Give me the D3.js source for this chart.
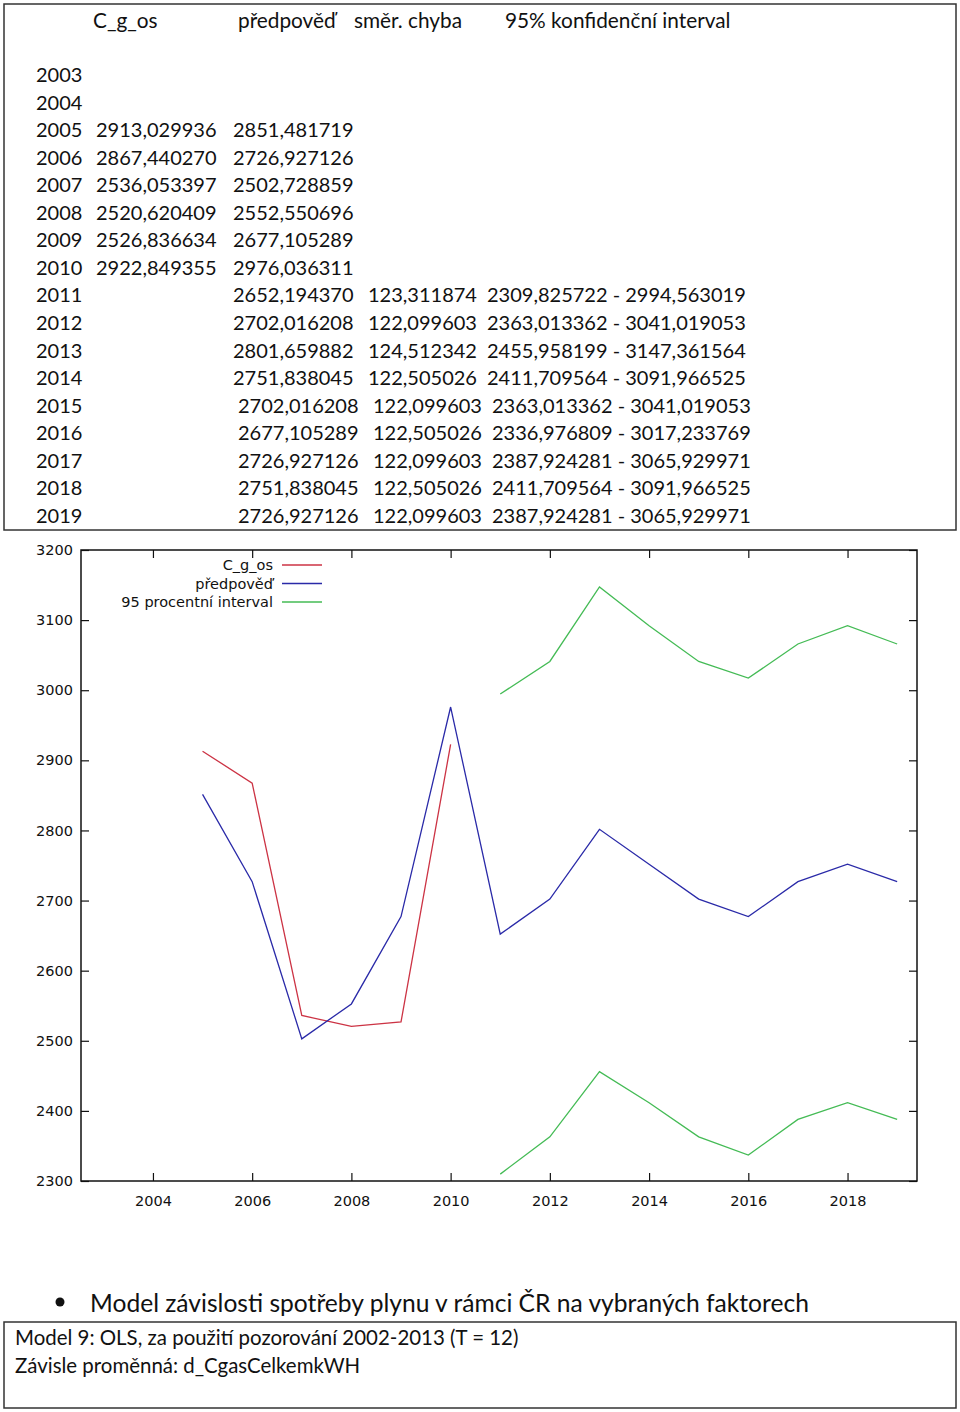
<!DOCTYPE html>
<html>
<head>
<meta charset="utf-8">
<script src="https://cdn.jsdelivr.net/npm/d3@7"></script>
<style>
  body { margin: 0; background: #fff; }
  .tbl { font-family: Lato, "Open Sans", sans-serif; font-size: 20px; fill: #111; }
  .gp { font-family: "DejaVu Sans", sans-serif; font-size: 14.5px; fill: #111; }
</style>
</head>
<body>
<div id="page"></div>
<script>
// table / chart data
let years = [2003, 2004, 2005, 2006, 2007, 2008, 2009, 2010, 2011, 2012, 2013, 2014, 2015, 2016, 2017, 2018, 2019];
let actual = [null, null, 2913.029936, 2867.44027, 2536.053397, 2520.620409, 2526.836634, 2922.849355,
  null, null, null, null, null, null, null, null, null];
let forecast = [null, null, 2851.481719, 2726.927126, 2502.728859, 2552.550696, 2677.105289, 2976.036311,
  2652.19437, 2702.016208, 2801.659882, 2751.838045, 2702.016208, 2677.105289, 2726.927126, 2751.838045, 2726.927126];
let stdErr = [null, null, null, null, null, null, null, null,
  123.311874, 122.099603, 124.512342, 122.505026, 122.099603, 122.505026, 122.099603, 122.505026, 122.099603];
let ciLow = [null, null, null, null, null, null, null, null,
  2309.825722, 2363.013362, 2455.958199, 2411.709564, 2363.013362, 2336.976809, 2387.924281, 2411.709564, 2387.924281];
let ciHigh = [null, null, null, null, null, null, null, null,
  2994.563019, 3041.019053, 3147.361564, 3091.966525, 3041.019053, 3017.233769, 3065.929971, 3091.966525, 3065.929971];

let headers = ["C_g_os", "předpověď", "směr. chyba", "95% konfidenční interval"];
let legendLabels = ["C_g_os", "předpověď", "95 procentní interval"];
let yTicks = [2300, 2400, 2500, 2600, 2700, 2800, 2900, 3000, 3100, 3200];
let xTicks = [2004, 2006, 2008, 2010, 2012, 2014, 2016, 2018];
let bulletText = "Model závislosti spotřeby plynu v rámci ČR na vybraných faktorech";
let modelLines = ["Model 9: OLS, za použití pozorování 2002-2013 (T = 12)", "Závisle proměnná: d_CgasCelkemkWH"];

let colors = { actual: "#cc3344", forecast: "#2a2aa8", ci: "#44bb55" };

let W = 960, H = 1412;
let svg = d3.select("#page").append("svg").attr("width", W).attr("height", H);

// ---------- table box ----------
svg.append("rect")
  .attr("x", 4).attr("y", 4).attr("width", 952).attr("height", 526)
  .attr("fill", "none").attr("stroke", "#333").attr("stroke-width", 1.5);

let headX = [93, 238, 354, 505];
svg.selectAll(".head")
  .data(headers)
  .enter()
  .append("text")
  .attr("class", "tbl head")
  .attr("x", (d, i) => headX[i])
  .attr("y", 21)
  .attr("dy", "0.35em")
  .style("font-size", "20.8px")
  .text((d) => d);

let fmt = (v) => v.toFixed(6).replace(".", ",");
let rowY = (i) => 75 + i * 27.56;

let rows = svg.selectAll(".row")
  .data(years)
  .enter()
  .append("g")
  .attr("class", "row")
  .attr("transform", (d, i) => "translate(0," + rowY(i) + ")");

rows.append("text").attr("class", "tbl").attr("x", 36).attr("dy", "0.35em").text((d) => d);
rows.append("text").attr("class", "tbl").attr("x", 96).attr("dy", "0.35em")
  .text((d, i) => (actual[i] == null ? "" : fmt(actual[i])));
rows.append("text").attr("class", "tbl").attr("x", (d) => (d >= 2015 ? 238 : 233)).attr("dy", "0.35em")
  .text((d, i) => (forecast[i] == null ? "" : fmt(forecast[i])));
rows.append("text").attr("class", "tbl").attr("x", (d) => (d >= 2015 ? 373 : 368)).attr("dy", "0.35em")
  .text((d, i) => (stdErr[i] == null ? "" : fmt(stdErr[i])));
rows.append("text").attr("class", "tbl").attr("x", (d) => (d >= 2015 ? 492 : 487)).attr("dy", "0.35em")
  .text((d, i) => (ciLow[i] == null ? "" : fmt(ciLow[i]) + " - " + fmt(ciHigh[i])));

// ---------- chart ----------
let plotL = 81, plotR = 917, plotT = 550, plotB = 1181;

let xScale = d3.scaleLinear().domain([2002.55, 2019.4]).range([plotL, plotR]);
let yScale = d3.scaleLinear().domain([2300, 3200]).range([plotB, plotT]);

let yAxis = d3.axisLeft(yScale).tickValues(yTicks).tickFormat(d3.format("d"))
  .tickSizeInner(-8).tickSizeOuter(0).tickPadding(8);
let xAxis = d3.axisBottom(xScale).tickValues(xTicks).tickFormat(d3.format("d"))
  .tickSizeInner(-8).tickSizeOuter(0).tickPadding(15);

let gy = svg.append("g").attr("transform", "translate(" + plotL + ",0)").call(yAxis);
let gx = svg.append("g").attr("transform", "translate(0," + plotB + ")").call(xAxis);
// mirrored ticks
svg.append("g").attr("transform", "translate(" + plotR + ",0)")
  .call(d3.axisRight(yScale).tickValues(yTicks).tickSizeInner(-8).tickSizeOuter(0).tickFormat(""));
svg.append("g").attr("transform", "translate(0," + plotT + ")")
  .call(d3.axisTop(xScale).tickValues(xTicks).tickSizeInner(-8).tickSizeOuter(0).tickFormat(""));

svg.selectAll(".domain").remove();
svg.selectAll(".tick line").attr("stroke", "#111").attr("stroke-width", 1.2);
[gx, gy].forEach((g) => {
  g.attr("font-family", null).attr("font-size", null);
  g.selectAll("text").attr("class", "gp");
});

svg.append("rect")
  .attr("x", plotL).attr("y", plotT).attr("width", plotR - plotL).attr("height", plotB - plotT)
  .attr("fill", "none").attr("stroke", "#111").attr("stroke-width", 1.5);

function drawSeries(values, color) {
  let line = d3.line()
    .defined((d) => d != null)
    .x((d, i) => xScale(years[i]))
    .y((d) => yScale(d));
  svg.append("path")
    .datum(values)
    .attr("fill", "none")
    .attr("stroke", color)
    .attr("stroke-width", 1.3)
    .attr("d", line);
}
drawSeries(actual, colors.actual);
drawSeries(forecast, colors.forecast);
drawSeries(ciLow, colors.ci);
drawSeries(ciHigh, colors.ci);

// legend
let legendColors = [colors.actual, colors.forecast, colors.ci];
let legend = svg.append("g").attr("id", "legend");
legendLabels.forEach((lab, i) => {
  let ly = 565 + i * 18.5;
  legend.append("text").attr("class", "gp").attr("x", 273).attr("y", ly)
    .attr("dy", "0.35em").attr("text-anchor", "end").text(lab);
  legend.append("line").attr("x1", 282).attr("x2", 322).attr("y1", ly).attr("y2", ly)
    .attr("stroke", legendColors[i]).attr("stroke-width", 1.3);
});

// ---------- bottom text ----------
svg.append("circle").attr("cx", 60).attr("cy", 1302).attr("r", 4.5).attr("fill", "#111");
svg.append("text").attr("class", "tbl").attr("x", 90).attr("y", 1303).attr("dy", "0.35em")
  .style("font-size", "24.6px").text(bulletText);

svg.append("rect")
  .attr("x", 4).attr("y", 1322).attr("width", 952).attr("height", 86)
  .attr("fill", "none").attr("stroke", "#333").attr("stroke-width", 1.5);

svg.selectAll(".model")
  .data(modelLines)
  .enter()
  .append("text")
  .attr("class", "tbl model")
  .attr("x", 15)
  .attr("y", (d, i) => 1338 + i * 27.5)
  .attr("dy", "0.35em")
  .style("font-size", "20.45px")
  .text((d) => d);
</script>
</body>
</html>
